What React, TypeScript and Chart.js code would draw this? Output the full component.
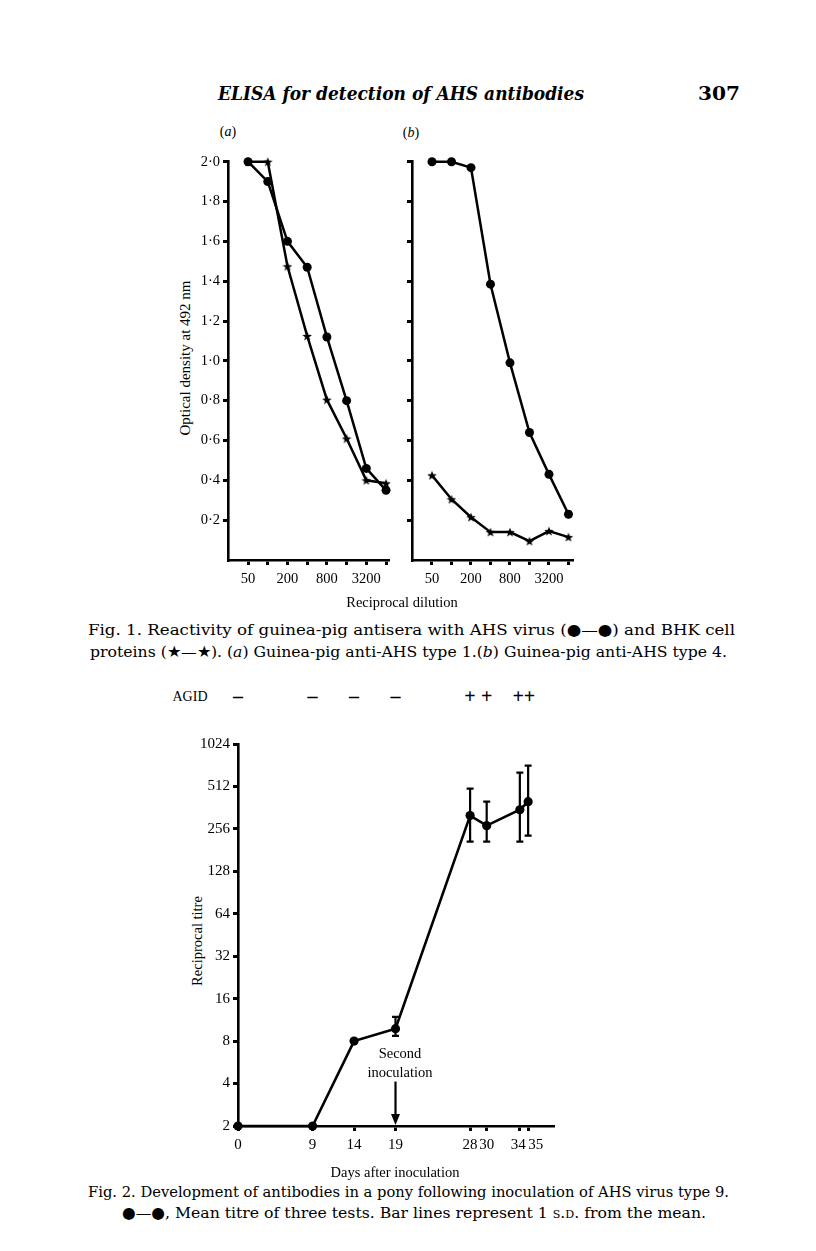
import React, { useEffect, useLayoutEffect, useRef } from 'react';
import { Chart, registerables } from 'chart.js';

Chart.register(...registerables);

// ---------- Fig. 1 data ----------
const dilutions = [50, 100, 200, 400, 800, 1600, 3200, 6400];
const dilutionLabels = ['50', '', '200', '', '800', '', '3200', ''];
const odTicks = [0.2, 0.4, 0.6, 0.8, 1.0, 1.2, 1.4, 1.6, 1.8, 2.0];
const odTickLabels = ['0·2', '0·4', '0·6', '0·8', '1·0', '1·2', '1·4', '1·6', '1·8', '2·0'];
// (a) Guinea-pig anti-AHS type 1
const aVirus = [2.0, 1.9, 1.6, 1.47, 1.12, 0.8, 0.46, 0.35];
const aBHK = [2.0, 2.0, 1.475, 1.125, 0.805, 0.61, 0.4, 0.385];
// (b) Guinea-pig anti-AHS type 4
const bVirus = [2.0, 2.0, 1.97, 1.385, 0.99, 0.64, 0.43, 0.23];
const bBHK = [0.425, 0.305, 0.215, 0.14, 0.14, 0.095, 0.145, 0.115];

// ---------- Fig. 2 data ----------
const days = [0, 9, 14, 19, 28, 30, 34, 35];
const dayLabels = ['0', '9', '14', '19', '28', '30', '34\u2009', '\u2002\u200235'];
const meanTitre = [2, 2, 8, 9.8, 318, 270, 350, 399];
const sdLow: (number | null)[] = [null, null, null, 8.7, 208, 208, 208, 229];
const sdHigh: (number | null)[] = [null, null, null, 11.9, 494, 399, 642, 719];
const titreTicks = [2, 4, 8, 16, 32, 64, 128, 256, 512, 1024];
const agidDays = [0, 9, 14, 19, 28, 30, 34.5];
const agidMarks = ['–', '–', '–', '–', '+', '+', '++'];
const secondInoculationDay = 19;

// ---------- layout constants ----------
const FIG2_LEFT = 238;
const FIG2_PX_PER_DAY = 8.286;

const tickFont1 = { family: 'Liberation Serif', size: 14.5 };
const tickFont2 = { family: 'Liberation Serif', size: 15 };
const BLACK = '#000';

function makeStar(size: number): HTMLCanvasElement {
  const c = document.createElement('canvas');
  c.width = size;
  c.height = size;
  const ctx = c.getContext('2d')!;
  const cx = size / 2, cy = size / 2 + 0.5;
  const R = size / 2, r = R * 0.42;
  ctx.beginPath();
  for (let i = 0; i < 10; i++) {
    const rad = i % 2 === 0 ? R : r;
    const ang = -Math.PI / 2 + (i * Math.PI) / 5;
    const px = cx + rad * Math.cos(ang);
    const py = cy + rad * Math.sin(ang);
    if (i === 0) ctx.moveTo(px, py); else ctx.lineTo(px, py);
  }
  ctx.closePath();
  ctx.fillStyle = '#000';
  ctx.fill();
  return c;
}

function axisStyle() {
  return {
    grid: { drawOnChartArea: false, drawTicks: true, tickLength: 5, lineWidth: 3, color: BLACK },
    border: { display: true, width: 2.6, color: BLACK },
  };
}

function fig1Config(virus: number[], bhk: number[], star: HTMLCanvasElement, opts: { showY: boolean; yWidth: number; xMin: number; xMax: number; padTop: number; padRight: number }) {
  return {
    type: 'line',
    data: {
      datasets: [
        {
          data: dilutions.map((d, i) => ({ x: d, y: bhk[i] })),
          borderColor: BLACK,
          borderWidth: 2.5,
          pointStyle: star,
          pointRadius: 4,
          tension: 0,
          clip: false,
        },
        {
          data: dilutions.map((d, i) => ({ x: d, y: virus[i] })),
          borderColor: BLACK,
          borderWidth: 2.5,
          pointStyle: 'circle',
          pointRadius: 4.5,
          pointBackgroundColor: BLACK,
          pointBorderColor: BLACK,
          pointBorderWidth: 0,
          tension: 0,
          clip: false,
        },
      ],
    },
    options: {
      animation: false,
      responsive: false,
      devicePixelRatio: 1,
      events: [],
      layout: { padding: { top: opts.padTop, right: opts.padRight, left: 0, bottom: 0 } },
      plugins: { legend: { display: false }, tooltip: { enabled: false } },
      scales: {
        x: {
          type: 'logarithmic',
          min: opts.xMin,
          max: opts.xMax,
          afterBuildTicks: (s: any) => { s.ticks = dilutions.map((v) => ({ value: v })); },
          afterFit: (s: any) => { s.height = 40; },
          ticks: {
            autoSkip: false,
            maxRotation: 0,
            padding: 5,
            color: BLACK,
            font: tickFont1,
            callback: (v: number) => { const i = dilutions.indexOf(v); return i >= 0 ? dilutionLabels[i] : ''; },
          },
          ...axisStyle(),
        },
        y: {
          type: 'linear',
          min: 0,
          max: 2.0,
          afterBuildTicks: (s: any) => { s.ticks = odTicks.map((v) => ({ value: v })); },
          afterFit: (s: any) => { s.width = opts.yWidth; },
          ticks: {
            autoSkip: false,
            padding: 3,
            color: BLACK,
            font: tickFont1,
            callback: (v: number) => {
              if (!opts.showY) return '';
              const i = odTicks.findIndex((t) => Math.abs(t - v) < 1e-6);
              return i >= 0 ? odTickLabels[i] : '';
            },
          },
          ...axisStyle(),
        },
      },
    },
  };
}

const errorBarPlugin = {
  id: 'errorBars',
  afterDatasetsDraw(chart: any) {
    const xs = chart.scales.x, ys = chart.scales.y;
    const ctx = chart.ctx;
    ctx.save();
    ctx.strokeStyle = BLACK;
    ctx.lineWidth = 2.2;
    days.forEach((d, i) => {
      const lo = sdLow[i], hi = sdHigh[i];
      if (lo == null || hi == null) return;
      const x = xs.getPixelForValue(d);
      const y1 = ys.getPixelForValue(lo), y2 = ys.getPixelForValue(hi);
      ctx.beginPath();
      ctx.moveTo(x, y1); ctx.lineTo(x, y2);
      ctx.moveTo(x - 3.5, y1); ctx.lineTo(x + 3.5, y1);
      ctx.moveTo(x - 3.5, y2); ctx.lineTo(x + 3.5, y2);
      ctx.stroke();
    });
    // arrow marking second inoculation
    const ax = xs.getPixelForValue(secondInoculationDay);
    const top = ys.getPixelForValue(4) - 2;
    const tip = ys.getPixelForValue(2) - 1;
    ctx.beginPath();
    ctx.lineWidth = 2.2;
    ctx.moveTo(ax, top); ctx.lineTo(ax, tip - 8);
    ctx.stroke();
    ctx.beginPath();
    ctx.moveTo(ax - 4.5, tip - 11); ctx.lineTo(ax + 4.5, tip - 11); ctx.lineTo(ax, tip); ctx.closePath();
    ctx.fillStyle = BLACK;
    ctx.fill();
    ctx.restore();
  },
};

function fig2Config() {
  return {
    type: 'line',
    data: {
      datasets: [
        {
          data: days.map((d, i) => ({ x: d, y: meanTitre[i] })),
          borderColor: BLACK,
          borderWidth: 2.6,
          pointStyle: 'circle',
          pointRadius: 4.6,
          pointBackgroundColor: BLACK,
          pointBorderWidth: 0,
          tension: 0,
          clip: false,
        },
      ],
    },
    options: {
      animation: false,
      responsive: false,
      devicePixelRatio: 1,
      events: [],
      layout: { padding: { top: 14, right: 17, left: 0, bottom: 0 } },
      plugins: { legend: { display: false }, tooltip: { enabled: false } },
      scales: {
        x: {
          type: 'linear',
          min: 0,
          max: 38,
          afterBuildTicks: (s: any) => { s.ticks = days.map((v) => ({ value: v })); },
          afterFit: (s: any) => { s.height = 44; },
          ticks: {
            autoSkip: false,
            maxRotation: 0,
            padding: 5,
            color: BLACK,
            font: tickFont2,
            callback: (v: number) => { const i = days.indexOf(v); return i >= 0 ? dayLabels[i] : ''; },
          },
          ...axisStyle(),
        },
        y: {
          type: 'logarithmic',
          min: 2,
          max: 1024,
          afterBuildTicks: (s: any) => { s.ticks = titreTicks.map((v) => ({ value: v })); },
          afterFit: (s: any) => { s.width = 88; },
          ticks: {
            autoSkip: false,
            padding: 3,
            color: BLACK,
            font: tickFont2,
            callback: (v: number) => String(v),
          },
          ...axisStyle(),
        },
      },
    },
    plugins: [errorBarPlugin],
  };
}

function ChartBox({ left, top, width, height, make }: { left: number; top: number; width: number; height: number; make: () => any }) {
  const ref = useRef<HTMLCanvasElement>(null);
  useEffect(() => {
    const chart = new Chart(ref.current!, make());
    return () => chart.destroy();
  }, []);
  return (
    <canvas
      ref={ref}
      width={width}
      height={height}
      style={{ position: 'absolute', left, top, width, height }}
    />
  );
}

function Txt({ cx, cy, size, rotate, style, children }: { cx: number; cy: number; size: number; rotate?: boolean; style?: any; children: any }) {
  return (
    <div
      style={{
        position: 'absolute',
        left: cx,
        top: cy,
        transform: `translate(-50%, -50%)${rotate ? ' rotate(-90deg)' : ''}`,
        whiteSpace: 'nowrap',
        fontFamily: 'Liberation Serif, serif',
        fontSize: size,
        lineHeight: `${size + 2}px`,
        color: '#000',
        ...style,
      }}
    >
      {children}
    </div>
  );
}

function FitLine({ x, cy, w, size, style, children }: { x: number; cy: number; w: number; size: number; style?: any; children: any }) {
  const ref = useRef<HTMLDivElement>(null);
  useLayoutEffect(() => {
    const el = ref.current!;
    el.style.transform = 'none';
    const natural = el.getBoundingClientRect().width;
    if (natural > 0) el.style.transform = `scaleX(${w / natural})`;
  }, []);
  return (
    <div
      ref={ref}
      style={{
        position: 'absolute',
        left: x,
        top: cy - (size + 4) / 2,
        whiteSpace: 'nowrap',
        transformOrigin: '0 50%',
        fontFamily: 'DejaVu Serif, serif',
        fontSize: size,
        lineHeight: `${size + 4}px`,
        color: '#000',
        ...style,
      }}
    >
      {children}
    </div>
  );
}

export default function App() {
  const star = useRef<HTMLCanvasElement | null>(null);
  if (!star.current && typeof document !== 'undefined') star.current = makeStar(10);
  return (
    <div style={{ position: 'absolute', left: 0, top: 0, width: 816, height: 1251, overflow: 'hidden', background: '#fff' }}>
      {/* running head */}
      <FitLine x={218} cy={93} w={366} size={19} style={{ fontWeight: 'bold', fontStyle: 'italic' }}>
        ELISA for detection of AHS antibodies
      </FitLine>
      <FitLine x={698} cy={93} w={42} size={19} style={{ fontWeight: 'bold' }}>
        307
      </FitLine>

      {/* Fig. 1 */}
      <Txt cx={228} cy={132} size={14}>(<i>a</i>)</Txt>
      <Txt cx={411} cy={133} size={14}>(<i>b</i>)</Txt>
      <Txt cx={185} cy={358} size={15} rotate>Optical density at 492 nm</Txt>
      <ChartBox
        left={150}
        top={150}
        width={250}
        height={450}
        make={() => fig1Config(aVirus, aBHK, star.current!, { showY: true, yWidth: 78, xMin: 24.7, xMax: 6860, padTop: 11, padRight: 12 })}
      />
      <ChartBox
        left={380}
        top={150}
        width={200}
        height={450}
        make={() => fig1Config(bVirus, bBHK, star.current!, { showY: false, yWidth: 32, xMin: 24.56, xMax: 7250, padTop: 11, padRight: 8 })}
      />
      <Txt cx={402} cy={602} size={14.5}>Reciprocal dilution</Txt>
      <FitLine x={88} cy={631} w={647} size={15.5}>
        Fig. 1. Reactivity of guinea-pig antisera with AHS virus (●—●) and BHK cell
      </FitLine>
      <FitLine x={90} cy={653} w={637} size={15.5}>
        proteins (★—★). (<i>a</i>) Guinea-pig anti-AHS type 1.(<i>b</i>) Guinea-pig anti-AHS type 4.
      </FitLine>

      {/* AGID row */}
      <Txt cx={190} cy={697} size={14}>AGID</Txt>
      {agidDays.map((d, i) => (
        <Txt key={i} cx={FIG2_LEFT + d * FIG2_PX_PER_DAY} cy={696} size={20} style={{ fontWeight: 'bold' }}>
          {agidMarks[i]}
        </Txt>
      ))}

      {/* Fig. 2 */}
      <Txt cx={197} cy={941} size={14.5} rotate>Reciprocal titre</Txt>
      <ChartBox left={150} top={730} width={420} height={440} make={() => fig2Config()} />
      <Txt cx={400} cy={1053} size={14.5}>Second</Txt>
      <Txt cx={400} cy={1072} size={14.5}>inoculation</Txt>
      <Txt cx={395} cy={1172} size={14.5}>Days after inoculation</Txt>
      <FitLine x={88} cy={1193} w={641} size={15.5}>
        Fig. 2. Development of antibodies in a pony following inoculation of AHS virus type 9.
      </FitLine>
      <FitLine x={122} cy={1214} w={584} size={15.5}>
        ●—●, Mean titre of three tests. Bar lines represent 1 <span style={{ fontVariant: 'small-caps' }}>s.d.</span> from the mean.
      </FitLine>
    </div>
  );
}
